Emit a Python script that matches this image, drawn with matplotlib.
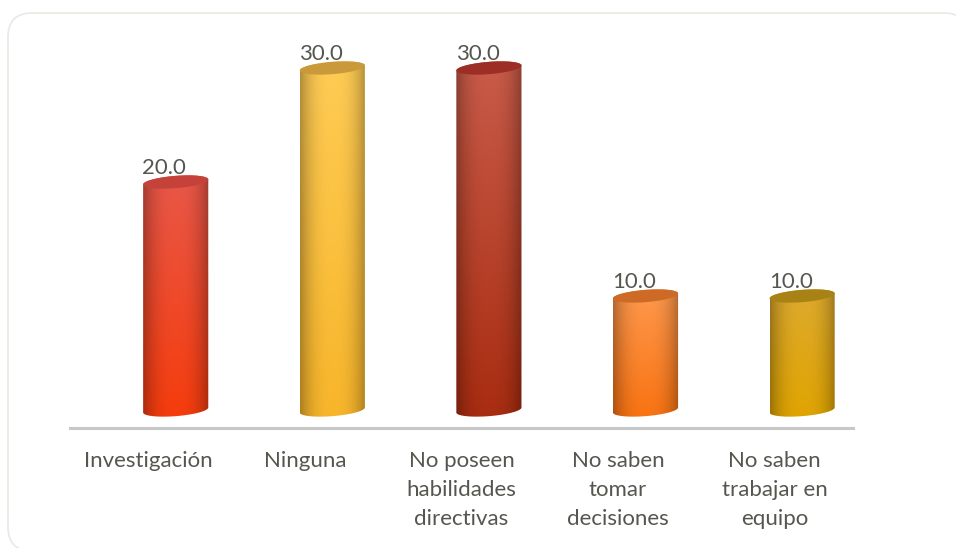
import numpy as np
import matplotlib
matplotlib.use("Agg")
import matplotlib.pyplot as plt
from matplotlib.patches import FancyBboxPatch, Polygon

plt.rcParams["font.family"] = ["Lato", "DejaVu Sans"]

categories = ["Investigación", "Ninguna", "No poseen\nhabilidades\ndirectivas",
              "No saben\ntomar\ndecisiones", "No saben\ntrabajar en\nequipo"]
values = [20.0, 30.0, 30.0, 10.0, 10.0]
top_colors = ["#E8584A", "#FFCC55", "#C95C4A", "#FF9A50", "#DDAA30"]
bottom_colors = ["#F53C0C", "#F7B52A", "#A82C10", "#F87210", "#E0A400"]
cap_colors = ["#C4423A", "#C9993A", "#9C2E26", "#CC6A26", "#A88214"]

text_color = "#55574F"


def hex_rgb(c):
    return np.array(matplotlib.colors.to_rgb(c))


def cylinder(ax, x, value, top_c, bottom_c, cap_c):
    rx = 0.208
    ry = 0.54  # cap height in value units
    tilt = 0.22
    t = np.linspace(0, 2 * np.pi, 120)
    # body: lower half of base, then upper half of top, cap goes over it
    lower = np.linspace(np.pi, 2 * np.pi, 60)
    base_x = x + rx * np.cos(lower)
    base_y = ry * np.sin(lower) + tilt * np.cos(lower)
    upper = np.linspace(0, np.pi, 60)
    top_x = x + rx * np.cos(upper)
    top_y = value + ry * np.sin(upper) + tilt * np.cos(upper)
    body = np.column_stack([np.r_[base_x, top_x], np.r_[base_y, top_y]])

    # gradient: light to saturated going down, dark at both sides
    ny, nx = 80, 80
    v = np.linspace(0, 1, ny)[:, None, None]
    img = hex_rgb(top_c)[None, None, :] * (1 - v) + hex_rgb(bottom_c)[None, None, :] * v
    h = np.linspace(-1, 1, nx)
    shade = 1 - 0.30 * np.abs(h) ** 2.6
    img = img * shade[None, :, None]
    im = ax.imshow(np.clip(img, 0, 1), extent=[x - rx, x + rx, -1, value + 1],
                   origin="upper", aspect="auto", zorder=2, interpolation="bilinear")
    clip = Polygon(body, closed=True, transform=ax.transData)
    im.set_clip_path(clip)

    cap = np.column_stack([x + rx * np.cos(t),
                           value + ry * np.sin(t) + tilt * np.cos(t)])
    ax.add_patch(Polygon(cap, closed=True, facecolor=cap_c, edgecolor="none", zorder=3))


fig = plt.figure(figsize=(9.56, 5.48), dpi=100, facecolor="white")

# rounded frame
bg = fig.add_axes([0, 0, 1, 1])
bg.set_xlim(0, 956)
bg.set_ylim(548, 0)
bg.axis("off")
bg.add_patch(FancyBboxPatch((32, 37), 912, 490, boxstyle="round,pad=24,rounding_size=24",
                            facecolor="white", edgecolor="#EAEAE5", linewidth=1.3))

ax = fig.add_axes([70 / 956, 120 / 548, 783 / 956, 408 / 548])
ax.patch.set_visible(False)

for i in range(len(values)):
    cylinder(ax, i + 0.175, values[i], top_colors[i], bottom_colors[i], cap_colors[i])
    ax.text(i + 0.102, values[i] + 0.36, f"{values[i]:.1f}", ha="center", va="bottom",
            fontsize=16, color=text_color, zorder=4)

ax.set_xlim(-0.5, 4.5)
ax.set_ylim(-18 / 11.4, 390 / 11.4)
ax.set_xticks(range(len(categories)))
ax.set_xticklabels(categories, fontsize=16, color=text_color, linespacing=1.56)
ax.tick_params(axis="x", length=0, pad=16.5)
ax.set_yticks([])
for s in ["top", "left", "right"]:
    ax.spines[s].set_visible(False)
ax.spines["bottom"].set_color("#C8C8C8")
ax.spines["bottom"].set_linewidth(2.2)

fig.savefig("out.png", dpi=100)
